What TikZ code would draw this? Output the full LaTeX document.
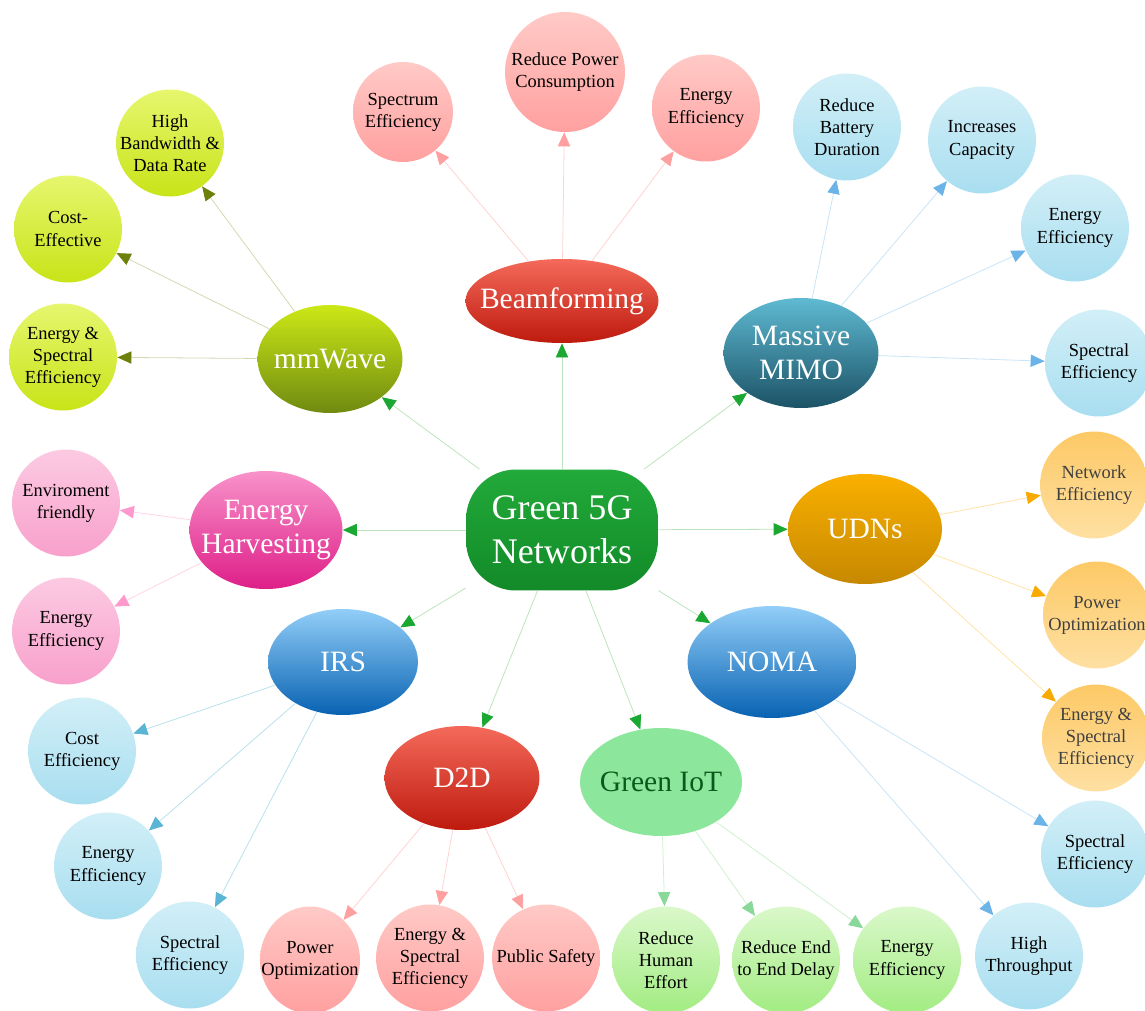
\documentclass[tikz,border=0pt]{standalone}
\usepackage{fontspec}
\setmainfont{Liberation Serif}
\usetikzlibrary{arrows.meta,shapes.geometric}

% colours of the hub and the technologies
\definecolor{hubtop}{HTML}{22AA3A}
\definecolor{hubbot}{HTML}{128A28}
\definecolor{mwtop}{HTML}{CCE816}
\definecolor{mwbot}{HTML}{6F8A10}
\definecolor{bftop}{HTML}{F46A5A}
\definecolor{bfbot}{HTML}{BE1A0E}
\definecolor{mitop}{HTML}{5EBAD2}
\definecolor{mibot}{HTML}{1C5266}
\definecolor{udtop}{HTML}{FAB000}
\definecolor{udbot}{HTML}{C68800}
\definecolor{bltop}{HTML}{92CEF8}
\definecolor{blbot}{HTML}{0862B2}
\definecolor{iotfill}{HTML}{8CE69C}
\definecolor{iottext}{HTML}{0A5A1C}
\definecolor{ehtop}{HTML}{F892CA}
\definecolor{ehbot}{HTML}{DE1E88}
% colours of the leaves
\definecolor{mwltop}{HTML}{E6F66E}
\definecolor{mwlbot}{HTML}{C8E418}
\definecolor{pkltop}{HTML}{FFCAC6}
\definecolor{pklbot}{HTML}{FFA0A0}
\definecolor{blltop}{HTML}{D2EFF7}
\definecolor{bllbot}{HTML}{A8DEF0}
\definecolor{orltop}{HTML}{FDC966}
\definecolor{orlbot}{HTML}{FEE0A2}
\definecolor{grltop}{HTML}{DAF8CA}
\definecolor{grlbot}{HTML}{A2EC82}
\definecolor{ehltop}{HTML}{FCCAE2}
\definecolor{ehlbot}{HTML}{F8A0CC}
% colours of the links
\definecolor{hubline}{HTML}{BCE4BC}
\definecolor{hubhead}{HTML}{1AA832}
\definecolor{mwline}{HTML}{D2D8B0}
\definecolor{mwhead}{HTML}{6E800C}
\definecolor{pkline}{HTML}{FFD2D2}
\definecolor{pkhead}{HTML}{FFA0A0}
\definecolor{blline}{HTML}{C8E4F6}
\definecolor{blhead}{HTML}{6CB4E8}
\definecolor{irline}{HTML}{B8E0EC}
\definecolor{irhead}{HTML}{5AB4D4}
\definecolor{orline}{HTML}{FFE2A8}
\definecolor{orhead}{HTML}{F8AA00}
\definecolor{grline}{HTML}{CEF0CE}
\definecolor{grhead}{HTML}{88D898}
\definecolor{ehline}{HTML}{FFD4E8}
\definecolor{ehhead}{HTML}{FF98CC}

\tikzset{
  hub/.style={rounded corners=1cm, minimum width=3.84cm, minimum height=2.42cm,
    top color=hubtop, bottom color=hubbot, text=white, align=center,
    font=\fontsize{20.5}{25}\selectfont},
  topic/.style={ellipse, inner sep=-15pt, align=center, text=white,
    font=\fontsize{16.8}{19.5}\selectfont},
  leaf/.style={ellipse, inner sep=-10pt, align=center, minimum width=2.16cm,
    minimum height=2.14cm, font=\fontsize{10.5}{12.6}\selectfont},
  mwleaf/.style={leaf, top color=mwltop, bottom color=mwlbot},
  pkleaf/.style={leaf, top color=pkltop, bottom color=pklbot},
  blleaf/.style={leaf, top color=blltop, bottom color=bllbot},
  orleaf/.style={leaf, top color=orltop, bottom color=orlbot, text=black!75},
  grleaf/.style={leaf, top color=grltop, bottom color=grlbot},
  ehleaf/.style={leaf, top color=ehltop, bottom color=ehlbot},
  link/.style 2 args={draw=#1, line width=0.45pt,
    -{Triangle[length=8pt,width=7pt,color=#2]}},
}

\begin{document}
\begin{tikzpicture}[x=0.02cm, y=-0.02cm]
\useasboundingbox (0,0) rectangle (1145,1010);

\node[hub] (g5) at (562,530) {Green 5G\\Networks};

% technologies
\node[topic, top color=mwtop, bottom color=mwbot, minimum width=2.9cm, minimum height=2.16cm] (mmw) at (330,359) {mmWave};
\node[topic, top color=bftop, bottom color=bfbot, minimum width=3.86cm, minimum height=1.68cm] (bf) at (562,301) {Beamforming};
\node[topic, top color=mitop, bottom color=mibot, minimum width=3.1cm, minimum height=2.2cm] (mimo) at (801,353) {Massive\\MIMO};
\node[topic, top color=udtop, bottom color=udbot, minimum width=3.08cm, minimum height=2.2cm] (udn) at (865,529) {UDNs};
\node[topic, top color=bltop, bottom color=blbot, minimum width=3.38cm, minimum height=2.24cm] (noma) at (772,662) {NOMA};
\node[topic, fill=iotfill, text=iottext, minimum width=3.24cm, minimum height=2.16cm] (iot) at (661,782) {Green IoT};
\node[topic, top color=bftop, bottom color=bfbot, minimum width=3.1cm, minimum height=2.08cm] (d2d) at (462,778) {D2D};
\node[topic, top color=bltop, bottom color=blbot, minimum width=3.0cm, minimum height=2.12cm] (irs) at (343,662) {IRS};
\node[topic, top color=ehtop, bottom color=ehbot, minimum width=3.06cm, minimum height=2.36cm] (eh) at (266,530) {Energy\\Harvesting};

% mmWave
\node[mwleaf] (mmw1) at (170,143) {High\\Bandwidth \&\\Data Rate};
\node[mwleaf] (mmw2) at (68,229) {Cost-\\Effective};
\node[mwleaf] (mmw3) at (63,357) {Energy \&\\Spectral\\Efficiency};

% Beamforming
\node[pkleaf, minimum width=2cm, minimum height=2cm] (bf1) at (403,112) {Spectrum\\Efficiency};
\node[pkleaf, minimum width=2.4cm, minimum height=2.4cm] (bf2) at (565,72) {Reduce Power\\Consumption};
\node[pkleaf] (bf3) at (706,108) {Energy\\Efficiency};

% Massive MIMO
\node[blleaf] (mimo1) at (847,127) {Reduce\\Battery\\Duration};
\node[blleaf] (mimo2) at (982,140) {Increases\\Capacity};
\node[blleaf] (mimo3) at (1075,228) {Energy\\Efficiency};
\node[blleaf] (mimo4) at (1099,363) {Spectral\\Efficiency};

% UDNs
\node[orleaf] (udn1) at (1094,485) {Network\\Efficiency};
\node[orleaf] (udn2) at (1097,615) {Power\\Optimization};
\node[orleaf] (udn3) at (1096,738) {Energy \&\\Spectral\\Efficiency};

% NOMA
\node[blleaf] (noma1) at (1095,854) {Spectral\\Efficiency};
\node[blleaf] (noma2) at (1029,956) {High\\Throughput};

% Green IoT
\node[grleaf] (iot1) at (666,960) {Reduce\\Human\\Effort};
\node[grleaf] (iot2) at (786,960) {Reduce End\\to End Delay};
\node[grleaf] (iot3) at (907,960) {Energy\\Efficiency};

% D2D
\node[pkleaf, minimum width=2cm] (d2d1) at (310,960) {Power\\Optimization};
\node[pkleaf] (d2d2) at (430,958) {Energy \&\\Spectral\\Efficiency};
\node[pkleaf] (d2d3) at (546,958) {Public Safety};

% IRS
\node[blleaf] (irs1) at (82,751) {Cost\\Efficiency};
\node[blleaf] (irs2) at (108,866) {Energy\\Efficiency};
\node[blleaf] (irs3) at (190,955) {Spectral\\Efficiency};

% Energy Harvesting
\node[ehleaf] (eh1) at (66,503) {Enviroment\\friendly};
\node[ehleaf] (eh2) at (66,631) {Energy\\Efficiency};

% links
\foreach \t in {mmw,bf,mimo,udn,noma,iot,d2d,irs,eh}
  \draw[link={hubline}{hubhead}] (g5) -- (\t);
\foreach \n in {1,2,3}
  \draw[link={mwline}{mwhead}] (mmw) -- (mmw\n);
\foreach \n in {1,2,3}
  \draw[link={pkline}{pkhead}] (bf) -- (bf\n);
\foreach \n in {1,2,3,4}
  \draw[link={blline}{blhead}] (mimo) -- (mimo\n);
\foreach \n in {1,2,3}
  \draw[link={orline}{orhead}] (udn) -- (udn\n);
\foreach \n in {1,2}
  \draw[link={blline}{blhead}] (noma) -- (noma\n);
\foreach \n in {1,2,3}
  \draw[link={grline}{grhead}] (iot) -- (iot\n);
\foreach \n in {1,2,3}
  \draw[link={pkline}{pkhead}] (d2d) -- (d2d\n);
\foreach \n in {1,2,3}
  \draw[link={irline}{irhead}] (irs) -- (irs\n);
\foreach \n in {1,2}
  \draw[link={ehline}{ehhead}] (eh) -- (eh\n);
\end{tikzpicture}
\end{document}
